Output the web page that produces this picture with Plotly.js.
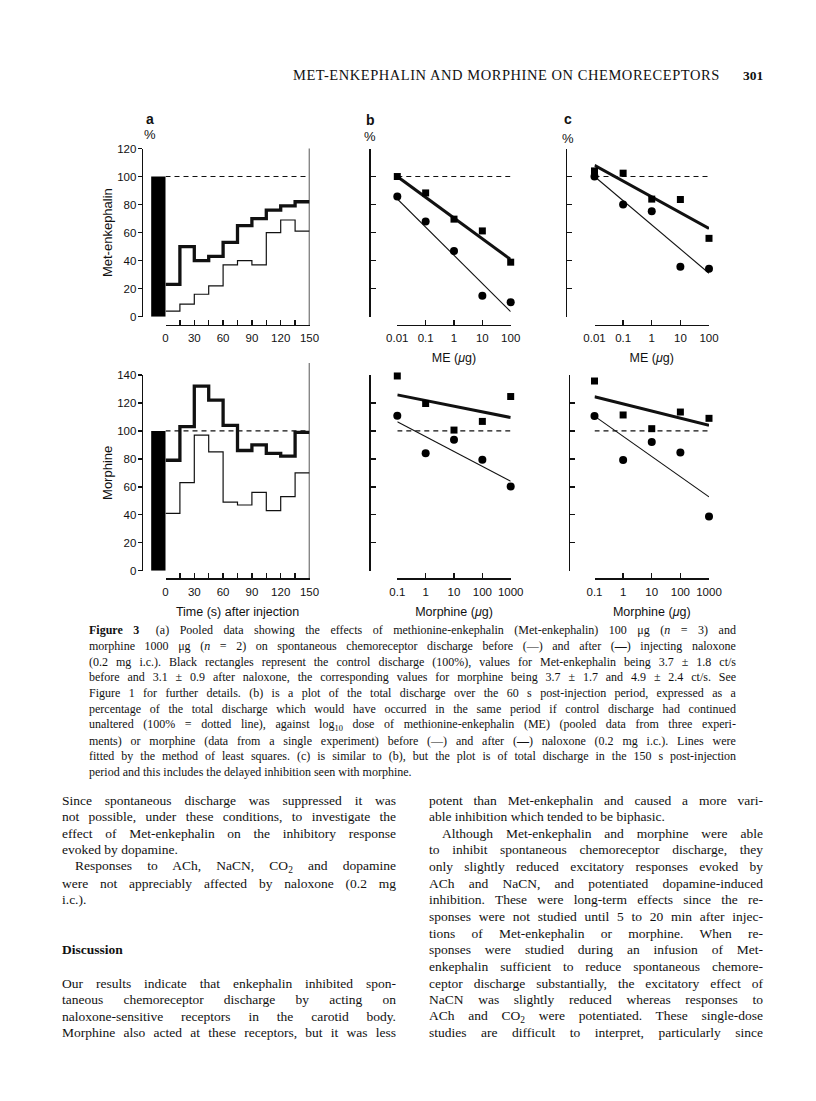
<!DOCTYPE html>
<html><head><meta charset="utf-8">
<script src="https://cdn.plot.ly/plotly-3.0.1.min.js"></script>
<style>html,body{margin:0;padding:0;background:#fff}#page{width:816px;height:1101px}</style>
</head><body><div id="page"></div>
<script>
// ---------------- DATA ----------------
const binStarts = [0, 15, 30, 45, 60, 75, 90, 105, 120, 135];
const binEnd = 150;
const controlLevel = 100;
const meTimeBefore  = [4, 9, 16, 22, 37, 40, 37, 60, 69, 61];
const meTimeAfter   = [23, 50, 40, 43, 53, 65, 70, 76, 79, 82];
const morTimeBefore = [41, 63, 97, 85, 49, 47, 56, 43, 53, 70];
const morTimeAfter  = [79, 103, 132, 122, 104, 86, 90, 84, 82, 99];

const meDoses = [0.01, 0.1, 1, 10, 100];
const me60Before  = [85.7, 67.9, 46.8, 14.9, 10.3];
const me60After   = [100, 88.3, 69.6, 61.2, 38.9];
const me150Before = [100, 80, 75.2, 35.7, 34.2];
const me150After  = [104, 102.4, 83.9, 83.6, 55.9];
const meFitDoses = [0.01, 100];
const me60FitBefore  = [84, 3.6];
const me60FitAfter   = [100, 40.8];
const me150FitBefore = [100, 31];
const me150FitAfter  = [108, 63];

const morDoses = [0.1, 1, 10, 100, 1000];
const mor60Before  = [110.8, 84, 93.7, 79.3, 60.3];
const mor60After   = [139.3, 119.6, 100.6, 106.8, 124.6];
const mor150Before = [110.6, 79.2, 92, 84.5, 38.8];
const mor150After  = [135.7, 111.4, 101.6, 113.5, 109];
const morFitDoses = [0.1, 1000];
const mor60FitBefore  = [106.5, 64];
const mor60FitAfter   = [125.8, 109.6];
const mor150FitBefore = [110.6, 52.8];
const mor150FitAfter  = [124.5, 104];

const timeTickVals = [0, 30, 60, 90, 120, 150];
const timeTickText = ['0', '30', '60', '90', '120', '150'];
const timeMinorStep = 15;
const meTickText  = ['0.01', '0.1', '1', '10', '100'];
const morTickText = ['0.1', '1', '10', '100', '1000'];

const headerText = 'MET-ENKEPHALIN AND MORPHINE ON CHEMORECEPTORS';
const pageNumber = '301';

const captionLines = [
  '<b>Figure 3</b>\u2002 (a) Pooled data showing the effects of methionine-enkephalin (Met-enkephalin) 100 μg (<i>n</i> = 3) and',
  'morphine 1000 μg (<i>n</i> = 2) on spontaneous chemoreceptor discharge before (—) and after (<b>—</b>) injecting naloxone',
  '(0.2 mg i.c.). Black rectangles represent the control discharge (100%), values for Met-enkephalin being 3.7 ± 1.8 ct/s',
  'before and 3.1 ± 0.9 after naloxone, the corresponding values for morphine being 3.7 ± 1.7 and 4.9 ± 2.4 ct/s. See',
  'Figure 1 for further details. (b) is a plot of the total discharge over the 60 s post-injection period, expressed as a',
  'percentage of the total discharge which would have occurred in the same period if control discharge had continued',
  'unaltered (100% = dotted line), against log<sub>10</sub> dose of methionine-enkephalin (ME) (pooled data from three experi-',
  'ments) or morphine (data from a single experiment) before (—) and after (<b>—</b>) naloxone (0.2 mg i.c.). Lines were',
  'fitted by the method of least squares. (c) is similar to (b), but the plot is of total discharge in the 150 s post-injection',
  'period and this includes the delayed inhibition seen with morphine.'
];
const leftColumnLines = [
  'Since spontaneous discharge was suppressed it was',
  'not possible, under these conditions, to investigate the',
  'effect of Met-enkephalin on the inhibitory response',
  'evoked by dopamine.',
  'Responses to ACh, NaCN, CO<sub>2</sub> and dopamine',
  'were not appreciably affected by naloxone (0.2 mg',
  'i.c.).',
  '',
  '',
  '<b>Discussion</b>',
  '',
  'Our results indicate that enkephalin inhibited spon-',
  'taneous chemoreceptor discharge by acting on',
  'naloxone-sensitive receptors in the carotid body.',
  'Morphine also acted at these receptors, but it was less'
];
const rightColumnLines = [
  'potent than Met-enkephalin and caused a more vari-',
  'able inhibition which tended to be biphasic.',
  'Although Met-enkephalin and morphine were able',
  'to inhibit spontaneous chemoreceptor discharge, they',
  'only slightly reduced excitatory responses evoked by',
  'ACh and NaCN, and potentiated dopamine-induced',
  'inhibition. These were long-term effects since the re-',
  'sponses were not studied until 5 to 20 min after injec-',
  'tions of Met-enkephalin or morphine. When re-',
  'sponses were studied during an infusion of Met-',
  'enkephalin sufficient to reduce spontaneous chemore-',
  'ceptor discharge substantially, the excitatory effect of',
  'NaCN was slightly reduced whereas responses to',
  'ACh and CO<sub>2</sub> were potentiated. These single-dose',
  'studies are difficult to interpret, particularly since'
];

// ---------------- LAYOUT GEOMETRY (px) ----------------
const W = 816, H = 1101;
const px = v => v / W;
const py = v => 1 - v / H;
const SANS = 'Liberation Sans, Arial, sans-serif';
const SERIF = 'Liberation Serif, Times New Roman, serif';
const INK = '#111';

const leftRagged = [3, 6, 9], leftIndent = [4];
const rightRagged = [1], rightIndent = [2];

const G = {
  top:    {yTop: 148.5, yBot: 316.7, axisY: 325},
  bottom: {yTop: 375,   yBot: 570.7, axisY: 578.3},
  a: {x0: 165.5, x1: 309.5, axisX: 141.7},
  b: {x0: 397.3, x1: 510.7, axisX: 369.3},
  cTop: {x0: 594.5, x1: 709, axisX: 566},
  cBot: {x0: 594.5, x1: 709, axisX: 569}
};
const ctrlBarStart = -15, ctrlBarEnd = 0;
// hidden axis for the control bar: same scale as panel a, extended to the left
const pxPerSec = (G.a.x1 - G.a.x0) / binEnd;
const barAxisX0 = G.a.x0 + ctrlBarStart * pxPerSec;

const axisBase = {
  showgrid: false, zeroline: false, showline: true, linecolor: INK, linewidth: 1.4,
  tickcolor: INK, tickwidth: 1.4, tickfont: {family: SANS, size: 11.5, color: INK},
  fixedrange: true, anchor: 'free'
};
function xAxis(col, row, extra) {
  return Object.assign({}, axisBase, {
    domain: [px(col.x0), px(col.x1)], position: py(row.axisY),
    ticks: 'inside', ticklen: 5, ticklabelstandoff: 2
  }, extra);
}
function yAxis(col, row, extra) {
  return Object.assign({}, axisBase, {
    domain: [py(row.yBot), py(row.yTop)], position: px(col.axisX), dtick: 20, tick0: 0
  }, extra);
}
const timeMinor = {dtick: timeMinorStep, tick0: 0, ticks: 'inside', ticklen: 5, tickwidth: 1.4, tickcolor: INK, showgrid: false};
const xTitle = t => ({text: t, font: {family: SANS, size: 12.5, color: INK}, standoff: 10});
const yTitle = t => ({text: t, font: {family: SANS, size: 13, color: INK}, standoff: 0});
const hiddenX = (row, yid) => ({domain: [px(barAxisX0), px(G.a.x1)], range: [ctrlBarStart, binEnd], visible: false, fixedrange: true, anchor: yid});

const layout = {
  width: W, height: H, margin: {l: 0, r: 0, t: 0, b: 0},
  paper_bgcolor: '#fff', plot_bgcolor: 'rgba(0,0,0,0)', showlegend: false,
  xaxis:  xAxis(G.a, G.top, {range: [0, binEnd], tickvals: timeTickVals, ticktext: timeTickText, minor: timeMinor}),
  yaxis:  yAxis(G.a, G.top, {range: [0, 120], ticks: 'outside', ticklen: 4, ticklabelstandoff: -1, title: yTitle('Met-enkephalin')}),
  xaxis2: xAxis(G.b, G.top, {type: 'log', range: [Math.log10(meDoses[0]), Math.log10(meDoses[4])], tickvals: meDoses, ticktext: meTickText, title: xTitle('ME (<i>μ</i>g)')}),
  yaxis2: yAxis(G.b, G.top, {range: [0, 120], ticks: 'inside', ticklen: 5, showticklabels: false}),
  xaxis3: xAxis(G.cTop, G.top, {type: 'log', range: [Math.log10(meDoses[0]), Math.log10(meDoses[4])], tickvals: meDoses, ticktext: meTickText, title: xTitle('ME (<i>μ</i>g)')}),
  yaxis3: yAxis(G.cTop, G.top, {range: [0, 120], ticks: 'inside', ticklen: 5, showticklabels: false}),
  xaxis4: xAxis(G.a, G.bottom, {range: [0, binEnd], tickvals: timeTickVals, ticktext: timeTickText, minor: timeMinor, title: xTitle('Time (s) after injection')}),
  yaxis4: yAxis(G.a, G.bottom, {range: [0, 140], ticks: 'outside', ticklen: 4, ticklabelstandoff: -1, title: yTitle('Morphine')}),
  xaxis5: xAxis(G.b, G.bottom, {type: 'log', range: [Math.log10(morDoses[0]), Math.log10(morDoses[4])], tickvals: morDoses, ticktext: morTickText, title: xTitle('Morphine (<i>μ</i>g)')}),
  yaxis5: yAxis(G.b, G.bottom, {range: [0, 140], ticks: 'inside', ticklen: 5, showticklabels: false}),
  xaxis6: xAxis(G.cBot, G.bottom, {type: 'log', range: [Math.log10(morDoses[0]), Math.log10(morDoses[4])], tickvals: morDoses, ticktext: morTickText, title: xTitle('Morphine (<i>μ</i>g)')}),
  yaxis6: yAxis(G.cBot, G.bottom, {range: [0, 140], ticks: 'inside', ticklen: 5, showticklabels: false}),
  xaxis7: hiddenX(G.top, 'y'),
  xaxis8: hiddenX(G.bottom, 'y4'),
  shapes: [
    {type: 'line', xref: 'x', yref: 'paper', x0: binEnd, x1: binEnd, y0: py(G.top.axisY), y1: py(G.top.yTop), line: {color: INK, width: 1.4}},
    {type: 'line', xref: 'x4', yref: 'paper', x0: binEnd, x1: binEnd, y0: py(G.bottom.axisY), y1: py(363), line: {color: INK, width: 1.4}}
  ],
  annotations: []
};

// ---------------- TRACES ----------------
const traces = [];
function stepTrace(vals, xa, ya, width) {
  return {x: binStarts.concat([binEnd]), y: vals.concat([vals[vals.length - 1]]), xaxis: xa, yaxis: ya,
    type: 'scatter', mode: 'lines', line: {shape: 'hv', color: INK, width: width}, hoverinfo: 'skip'};
}
function ctrlBar(xa, ya) {
  return {type: 'bar', x: [(ctrlBarStart + ctrlBarEnd) / 2], y: [controlLevel], width: [ctrlBarEnd - ctrlBarStart],
    xaxis: xa, yaxis: ya, marker: {color: '#000', line: {width: 0}}, hoverinfo: 'skip'};
}
function refLine(xs, xa, ya) {
  return {x: xs, y: xs.map(() => controlLevel), xaxis: xa, yaxis: ya, type: 'scatter', mode: 'lines',
    line: {color: INK, width: 1.1, dash: '5px,4px'}, hoverinfo: 'skip'};
}
function pts(xs, ys, xa, ya, sym, size) {
  return {x: xs, y: ys, xaxis: xa, yaxis: ya, type: 'scatter', mode: 'markers', cliponaxis: false,
    marker: {symbol: sym, size: size, color: '#000', line: {width: 0}}, hoverinfo: 'skip'};
}
function fit(xs, ys, xa, ya, width) {
  return {x: xs, y: ys, xaxis: xa, yaxis: ya, type: 'scatter', mode: 'lines',
    line: {color: INK, width: width}, hoverinfo: 'skip'};
}
// panel a
traces.push(ctrlBar('x7', 'y'), refLine([0, binEnd], 'x', 'y'),
  stepTrace(meTimeBefore, 'x', 'y', 1.2), stepTrace(meTimeAfter, 'x', 'y', 3.3));
traces.push(ctrlBar('x8', 'y4'), refLine([0, binEnd], 'x4', 'y4'),
  stepTrace(morTimeBefore, 'x4', 'y4', 1.2), stepTrace(morTimeAfter, 'x4', 'y4', 3.3));
// panels b and c
[
  ['x2', 'y2', meDoses, me60Before, me60After, meFitDoses, me60FitBefore, me60FitAfter],
  ['x3', 'y3', meDoses, me150Before, me150After, meFitDoses, me150FitBefore, me150FitAfter],
  ['x5', 'y5', morDoses, mor60Before, mor60After, morFitDoses, mor60FitBefore, mor60FitAfter],
  ['x6', 'y6', morDoses, mor150Before, mor150After, morFitDoses, mor150FitBefore, mor150FitAfter]
].forEach(p => {
  const [xa, ya, d, bef, aft, fd, fb, fa] = p;
  traces.push(refLine([d[0], d[d.length - 1]], xa, ya));
  traces.push(fit(fd, fb, xa, ya, 1.1), fit(fd, fa, xa, ya, 3));
  traces.push(pts(d, bef, xa, ya, 'circle', 8), pts(d, aft, xa, ya, 'square', 7));
});

// ---------------- TEXT ----------------
const fits = [];
function addText(text, x, y, opts, fitSpec) {
  layout.annotations.push(Object.assign({
    text: text, xref: 'paper', yref: 'paper', x: px(x), y: py(y), showarrow: false,
    xanchor: 'left', yanchor: 'middle', align: 'left', borderpad: 0,
    font: {family: SERIF, size: 13.5, color: INK}
  }, opts));
  fits.push(fitSpec || null);
}
addText(headerText, 292, 75, {font: {family: SERIF, size: 14.5, color: INK}}, {mode: 'letter', width: 718 - 292});
addText('<b>' + pageNumber + '</b>', 765, 75, {xanchor: 'right', align: 'right', font: {family: SERIF, size: 13.5, color: INK}});
// panel letters
[['a', 150, 119, 134], ['b', 370, 120, 137], ['c', 568, 119, 139]].forEach(l => {
  addText('<b>' + l[0] + '</b>', l[1], l[2], {xanchor: 'center', align: 'center', font: {family: SANS, size: 14, color: INK}});
  addText('%', l[1], l[3], {xanchor: 'center', align: 'center', font: {family: SANS, size: 13, color: INK}});
});
// caption
const capLeft = 88, capRight = 735, capY0 = 630, capDY = 15.8;
captionLines.forEach((t, i) => {
  addText(t, capLeft, capY0 + i * capDY, {font: {family: SERIF, size: 12, color: INK}},
    i < captionLines.length - 1 ? {mode: 'word', width: capRight - capLeft} : null);
});
// body columns
const bodyY0 = 800, bodyDY = 16.64, indentPx = 13;
function column(lines, left, right, ragged, indent) {
  lines.forEach((t, i) => {
    if (!t) return;
    const x = left + (indent.includes(i) ? indentPx : 0);
    addText(t, x, bodyY0 + i * bodyDY, {font: {family: SERIF, size: 13.5, color: INK}},
      ragged.includes(i) ? null : {mode: 'word', width: right - x});
  });
}
column(leftColumnLines, 61, 395, leftRagged, leftIndent);
column(rightColumnLines, 428, 762, rightRagged, rightIndent);

const gd = document.getElementById('page');
Plotly.newPlot(gd, traces, layout, {staticPlot: true, displayModeBar: false}).then(() => {
  try {
    gd.querySelectorAll('g.annotation').forEach(g => {
      const idx = +g.getAttribute('data-index');
      const f = fits[idx];
      if (!f) return;
      const t = g.querySelector('text.annotation-text');
      if (!t) return;
      const w = t.getComputedTextLength();
      if (f.mode === 'word') {
        const n = (t.textContent.match(/ /g) || []).length;
        if (n) t.style.wordSpacing = ((f.width - w) / n).toFixed(2) + 'px';
      } else {
        const n = t.textContent.length;
        if (n > 1) t.style.letterSpacing = ((f.width - w) / (n - 1)).toFixed(2) + 'px';
      }
    });
  } catch (e) { console.log(e); }
});
</script>
</body></html>
